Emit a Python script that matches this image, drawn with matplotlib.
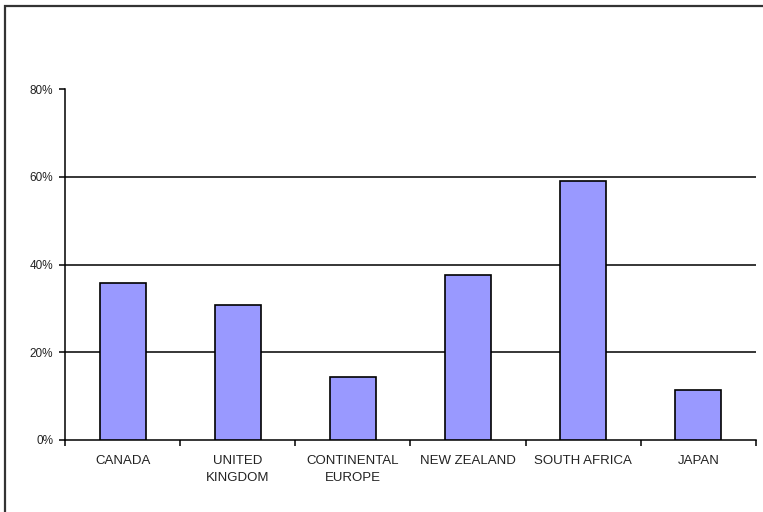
import matplotlib
matplotlib.use("Agg")
import matplotlib.pyplot as plt
from matplotlib.patches import Rectangle
from matplotlib.ticker import FuncFormatter, FixedLocator
import numpy as np

categories = ["CANADA", "UNITED\nKINGDOM", "CONTINENTAL\nEUROPE", "NEW ZEALAND", "SOUTH AFRICA", "JAPAN"]
values = [35.8, 30.7, 14.3, 37.6, 59.0, 11.4]
y_ticks = [0, 20, 40, 60, 80]

plt.rcParams["font.family"] = ["Liberation Sans", "DejaVu Sans"]

fig = plt.figure(figsize=(7.63, 5.12), dpi=100)
fig.patch.set_facecolor("white")

# outer chart border (right and bottom edges run past the canvas)
fig.patches.append(Rectangle((5 / 763, -0.05), 1.1, 1 - 6 / 512 + 0.05,
                             transform=fig.transFigure, fill=False,
                             edgecolor="#333333", linewidth=1.6, zorder=0))

ax = fig.add_axes([65 / 763, 1 - 440 / 512, (756 - 65) / 763, (440 - 89) / 512])

x = np.arange(len(categories))
ax.bar(x, values, width=0.4, color="#9999ff", edgecolor="black", linewidth=1.2, zorder=3)

ax.set_xlim(-0.5, len(categories) - 0.5)
ax.set_ylim(0, 80)

ax.yaxis.set_major_locator(FixedLocator(y_ticks))
ax.yaxis.set_major_formatter(FuncFormatter(lambda v, p: f"{v:.0f}%"))
for t in y_ticks[1:4]:
    ax.axhline(t, color="black", linewidth=1.1, zorder=1)

text_color = "#222222"
ax.set_xticks(x)
ax.set_xticklabels(categories, fontsize=9.5, linespacing=1.5, color=text_color)
ax.xaxis.set_minor_locator(FixedLocator(np.arange(len(categories) + 1) - 0.5))
ax.tick_params(axis="x", which="major", length=0, pad=11)
ax.tick_params(axis="x", which="minor", length=4, width=1.1, direction="out")
ax.tick_params(axis="y", length=4, width=1.1, direction="out", labelsize=8.5,
               pad=4.5, labelcolor=text_color)

for side in ("top", "right"):
    ax.spines[side].set_visible(False)
ax.spines["left"].set_linewidth(1.1)
ax.spines["bottom"].set_linewidth(1.1)

fig.savefig("out.png", dpi=100)
